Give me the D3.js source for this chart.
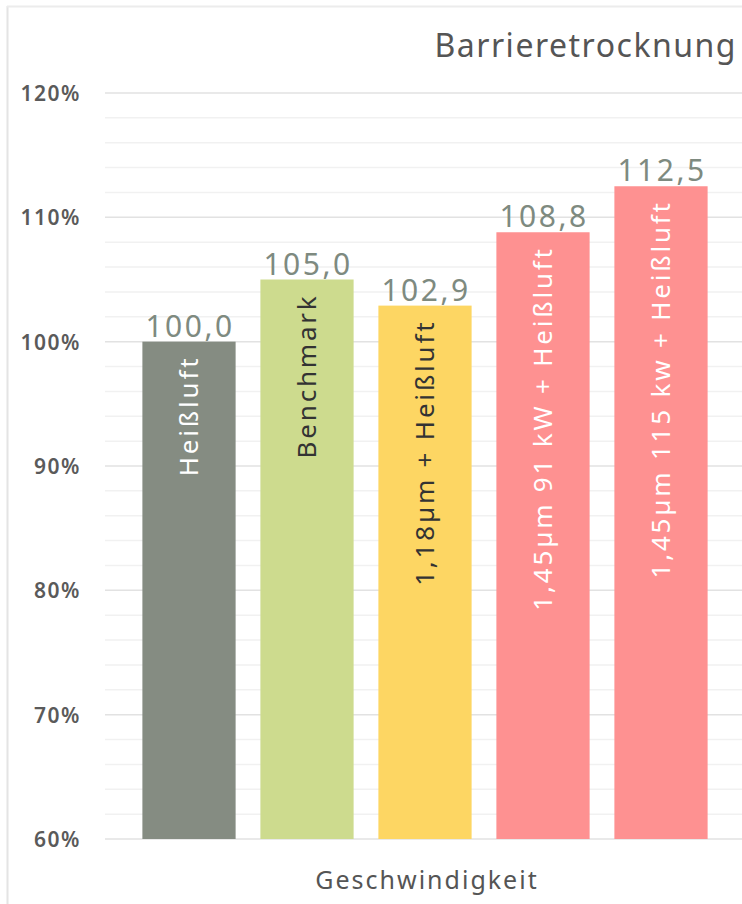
<!DOCTYPE html>
<html><head><meta charset="utf-8">
<script src="https://cdn.jsdelivr.net/npm/d3@7"></script>
<style>body{margin:0;background:#fff;}svg{display:block;}</style>
</head><body>
<script>
const categories = ["Heißluft","Benchmark","1,18µm + Heißluft","1,45µm 91 kW + Heißluft","1,45µm 115 kw + Heißluft"];
const values = [100.0, 105.0, 102.9, 108.8, 112.5];
const valueLabels = ["100,0","105,0","102,9","108,8","112,5"];
const barColors = ["#858c82","#cddb8e","#fdd663","#fe9191","#fe9191"];
const innerTextColors = ["#ffffff","#333333","#333333","#ffffff","#ffffff"];
const majorTicks = [60,70,80,90,100,110,120];
const minorTicks = d3.range(60,121,2);
const title = "Barrieretrocknung";
const xTitle = "Geschwindigkeit";

const W = 742, H = 904;
const svg = d3.select("body").append("svg").attr("width",W).attr("height",H);
const font = "'Noto Sans', sans-serif";

// frame
svg.append("line").attr("x1",7.5).attr("x2",7.5).attr("y1",6).attr("y2",H).attr("stroke","#e4e4e4").attr("stroke-width",2);
svg.append("line").attr("x1",7).attr("x2",W).attr("y1",6.5).attr("y2",6.5).attr("stroke","#ececec").attr("stroke-width",2);

const y = d3.scaleLinear().domain([60,120]).range([839,93]);
const x = d3.scaleBand().domain(categories).range([130,720]).paddingInner(0.21).paddingOuter(0.105);

const gx0 = 105, gx1 = W;
svg.append("g").selectAll("line").data(minorTicks.filter(d=>d%10!==0)).join("line")
  .attr("x1",gx0).attr("x2",gx1).attr("y1",d=>y(d)).attr("y2",d=>y(d))
  .attr("stroke","#f1f1f1").attr("stroke-width",1.5);
svg.append("g").selectAll("line").data(majorTicks).join("line")
  .attr("x1",gx0).attr("x2",gx1).attr("y1",d=>y(d)).attr("y2",d=>y(d))
  .attr("stroke","#e2e2e2").attr("stroke-width",1.5);

// y axis labels
const yAxis = d3.axisLeft(y).tickValues(majorTicks).tickFormat(d=>d+"%").tickSize(0).tickPadding(0);
const ga = svg.append("g").attr("transform","translate(81,0)").call(yAxis);
ga.select(".domain").remove();
ga.selectAll("text").attr("font-family",font).attr("font-size",21).attr("font-weight",600)
  .attr("letter-spacing",1.5).attr("fill","#5a5a5a").attr("dy","0.35em");

// bars
svg.append("g").selectAll("rect").data(categories).join("rect")
  .attr("x",d=>x(d)).attr("width",x.bandwidth())
  .attr("y",(d,i)=>y(values[i])).attr("height",(d,i)=>y(60)-y(values[i]))
  .attr("fill",(d,i)=>barColors[i]);

// value labels
svg.append("g").selectAll("text").data(categories).join("text")
  .attr("x",d=>x(d)+x.bandwidth()/2+1).attr("y",(d,i)=>y(values[i])-5)
  .attr("text-anchor","middle").attr("font-family",font).attr("font-size",30)
  .attr("letter-spacing",2.5).attr("fill","#7e8a80").text((d,i)=>valueLabels[i]);

// inner labels
svg.append("g").selectAll("text").data(categories).join("text")
  .attr("transform",(d,i)=>`translate(${x(d)+x.bandwidth()/2+9},${y(values[i])+14}) rotate(-90)`)
  .attr("text-anchor","end").attr("font-family",font).attr("font-size",26)
  .attr("letter-spacing",2.8)
  .attr("fill",(d,i)=>innerTextColors[i]).text(d=>d);

// title
svg.append("text").attr("x",737).attr("y",57).attr("text-anchor","end")
  .attr("font-family",font).attr("font-size",32).attr("letter-spacing",1.5).attr("fill","#555").text(title);

// x title
svg.append("text").attr("x",427).attr("y",889).attr("text-anchor","middle")
  .attr("font-family",font).attr("font-size",25).attr("letter-spacing",2).attr("fill","#555").text(xTitle);
</script>
</body></html>
